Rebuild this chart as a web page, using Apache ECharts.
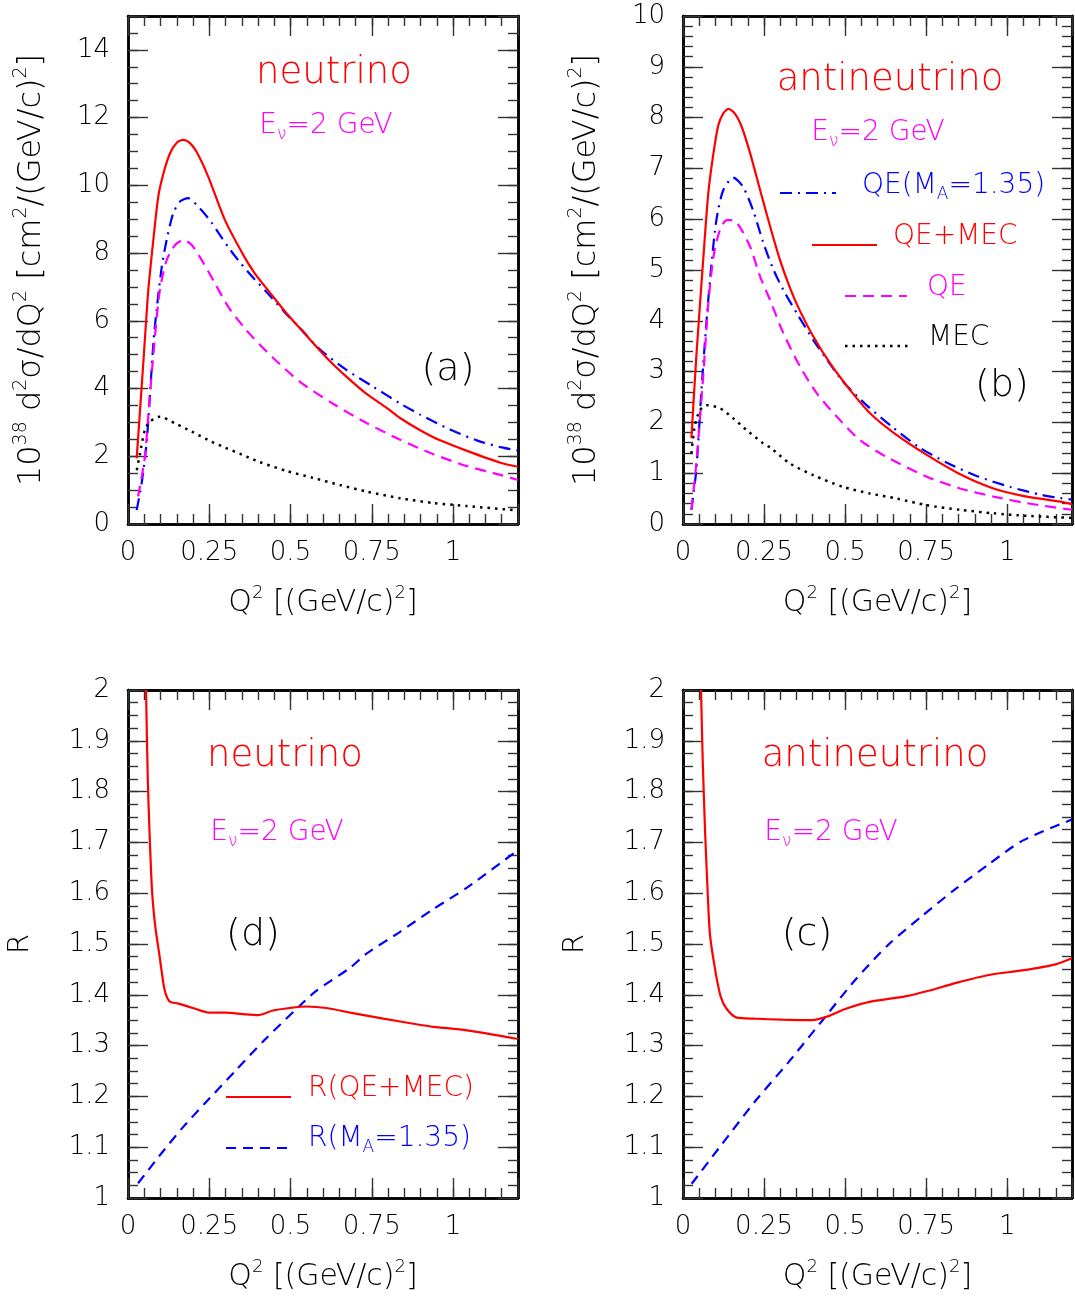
<!DOCTYPE html>
<html>
<head>
<meta charset="utf-8">
<script src="https://cdn.jsdelivr.net/npm/echarts@6/dist/echarts.min.js"></script>
<style>
  html, body { margin: 0; padding: 0; background: #fff; }
  #chart { width: 1075px; height: 1297px; }
</style>
</head>
<body>
<div id="chart"></div>
<script>
// ---- tick labels ----
const xTickLabels = [0, 0.25, 0.5, 0.75, 1];
const yTickLabelsNu = [0, 2, 4, 6, 8, 10, 12, 14];
const yTickLabelsAnu = [0, 1, 2, 3, 4, 5, 6, 7, 8, 9, 10];
const yTickLabelsRatio = [1, 1.1, 1.2, 1.3, 1.4, 1.5, 1.6, 1.7, 1.8, 1.9, 2];

// ---- neutrino, E = 2 GeV : d2sigma/dQ2 [1e-38 cm^2/(GeV/c)^2] vs Q^2 ----
const nuQeMec = [[0.0267,1.94],[0.047,4.74],[0.0625,6.91],[0.078,8.39],[0.093,9.66],[0.109,10.35],[0.129,10.94],[0.15,11.26],[0.17,11.34],[0.189,11.26],[0.211,10.99],[0.247,10.25],[0.298,8.98],[0.355,7.94],[0.39,7.40],[0.436,6.84],[0.487,6.23],[0.539,5.67],[0.611,4.91],[0.672,4.35],[0.734,3.84],[0.796,3.43],[0.837,3.13],[0.899,2.77],[0.96,2.47],[1.043,2.16],[1.146,1.81],[1.2,1.69]];
const nuQeMa = [[0.0267,0.41],[0.042,1.2],[0.058,2.48],[0.078,5.33],[0.088,6.32],[0.104,7.6],[0.119,8.39],[0.139,9.17],[0.16,9.52],[0.185,9.62],[0.221,9.32],[0.257,8.90],[0.308,8.18],[0.345,7.72],[0.39,7.22],[0.436,6.75],[0.487,6.2],[0.518,5.9],[0.59,5.16],[0.672,4.55],[0.755,4.05],[0.837,3.56],[0.899,3.23],[0.991,2.79],[1.073,2.47],[1.146,2.27],[1.2,2.17]];
const nuQe = [[0.031,0.81],[0.052,1.99],[0.067,3.76],[0.083,5.53],[0.098,6.91],[0.119,7.79],[0.145,8.24],[0.17,8.39],[0.196,8.24],[0.227,7.79],[0.268,7.1],[0.308,6.42],[0.355,5.83],[0.385,5.50],[0.446,4.91],[0.529,4.2],[0.631,3.55],[0.734,2.98],[0.837,2.49],[0.94,2.06],[1.043,1.71],[1.146,1.45],[1.2,1.30]];
const nuMec = [[0.027,1.59],[0.037,2.09],[0.052,2.78],[0.067,3.02],[0.098,3.17],[0.145,2.97],[0.196,2.73],[0.257,2.43],[0.3,2.25],[0.35,2.05],[0.405,1.83],[0.487,1.57],[0.57,1.36],[0.652,1.15],[0.734,0.96],[0.837,0.76],[0.94,0.62],[1.043,0.53],[1.2,0.40]];

// ---- antineutrino, E = 2 GeV ----
const anuQeMec = [[0.026,1.69],[0.041,3.29],[0.063,5.26],[0.078,6.51],[0.094,7.30],[0.109,7.85],[0.124,8.08],[0.14,8.17],[0.16,8.08],[0.181,7.82],[0.207,7.30],[0.238,6.57],[0.269,5.85],[0.299,5.2],[0.33,4.65],[0.359,4.22],[0.402,3.69],[0.454,3.16],[0.515,2.64],[0.577,2.18],[0.649,1.80],[0.752,1.36],[0.855,0.98],[0.958,0.70],[1.06,0.54],[1.164,0.44],[1.2,0.39]];
const anuQeMa = [[0.026,0.28],[0.041,1.06],[0.057,2.64],[0.072,3.95],[0.088,5.13],[0.103,5.98],[0.124,6.57],[0.155,6.82],[0.185,6.64],[0.216,6.18],[0.247,5.55],[0.278,5.02],[0.31,4.60],[0.351,4.15],[0.402,3.62],[0.438,3.29],[0.494,2.80],[0.566,2.34],[0.644,1.92],[0.726,1.52],[0.813,1.21],[0.906,0.945],[1.009,0.73],[1.107,0.57],[1.164,0.51],[1.2,0.48]];
const anuQe = [[0.026,0.28],[0.041,1.19],[0.063,2.97],[0.078,4.34],[0.094,5.26],[0.114,5.79],[0.135,5.98],[0.155,5.98],[0.175,5.85],[0.207,5.46],[0.238,4.87],[0.2685,4.41],[0.31,3.75],[0.361,3.10],[0.413,2.57],[0.475,2.11],[0.546,1.65],[0.628,1.32],[0.752,0.93],[0.855,0.70],[0.958,0.54],[1.06,0.41],[1.2,0.28]];
const anuMec = [[0.026,1.39],[0.036,1.92],[0.052,2.24],[0.072,2.34],[0.114,2.28],[0.155,2.08],[0.196,1.85],[0.247,1.59],[0.27,1.50],[0.33,1.19],[0.402,0.96],[0.494,0.73],[0.577,0.60],[0.66,0.50],[0.752,0.37],[0.855,0.28],[0.958,0.21],[1.06,0.16],[1.2,0.12]];

// ---- ratios R ----
const nuRatioMec = [[0.0555,2.0],[0.0607,1.829],[0.066,1.724],[0.074,1.604],[0.084,1.534],[0.0967,1.478],[0.109,1.422],[0.117,1.40],[0.13,1.386],[0.153,1.383],[0.2,1.374],[0.251,1.365],[0.302,1.365],[0.354,1.362],[0.40,1.36],[0.446,1.369],[0.498,1.374],[0.549,1.377],[0.611,1.374],[0.683,1.365],[0.786,1.353],[0.888,1.342],[0.94,1.337],[1.043,1.33],[1.2,1.313]];
const nuRatioMa = [[0.031,1.029],[0.103,1.088],[0.17,1.14],[0.236,1.186],[0.33,1.25],[0.42,1.311],[0.518,1.372],[0.58,1.408],[0.683,1.453],[0.734,1.481],[0.837,1.524],[0.94,1.569],[1.043,1.611],[1.2,1.685]];
const anuRatioMec = [[0.0556,2.0],[0.0607,1.864],[0.068,1.724],[0.075,1.618],[0.083,1.52],[0.099,1.45],[0.116,1.397],[0.135,1.372],[0.166,1.355],[0.222,1.353],[0.305,1.351],[0.397,1.35],[0.449,1.358],[0.50,1.372],[0.582,1.387],[0.685,1.397],[0.758,1.408],[0.84,1.423],[0.943,1.439],[1.046,1.448],[1.149,1.46],[1.2,1.472]];
const anuRatioMa = [[0.0268,1.028],[0.119,1.105],[0.222,1.19],[0.325,1.267],[0.428,1.348],[0.531,1.429],[0.634,1.499],[0.737,1.555],[0.84,1.608],[0.943,1.657],[1.046,1.703],[1.2,1.745]];

// ---- styling ----
const FONT = "'DejaVu Sans', sans-serif";
const FW = 200;
const RED = '#ff0000', BLUE = '#0000ff', MAG = '#ff00ff', BLACK = '#000000';
const DASH_DOT = [12, 6, 2, 6];
const DASH = [11, 7];
const DOT = [2.5, 5];
const DASH_R = [10, 7];

// rich-text fragments: t = normal, s = superscript, b = subscript
// colorKey is 'color' for component text and 'fill' for graphic elements
function richSet(size, color, colorKey) {
  const k = colorKey || 'color';
  const small = Math.round(size * 0.6);
  const base = { fontFamily: FONT, fontWeight: FW };
  return {
    t: Object.assign({}, base, { fontSize: size, lineHeight: Math.round(size * 1.25), verticalAlign: 'middle', [k]: color }),
    s: Object.assign({}, base, { fontSize: small, verticalAlign: 'top', [k]: color }),
    b: Object.assign({}, base, { fontSize: small, verticalAlign: 'bottom', [k]: color })
  };
}

const grids = [
  { left: 128, top: 16, width: 390, height: 508 },
  { left: 683, top: 16, width: 389, height: 508 },
  { left: 128, top: 690, width: 390, height: 508 },
  { left: 683, top: 690, width: 389, height: 508 }
];

const xTitle = '{t|Q}{s|2}{t| [(GeV/c)}{s|2}{t|]}';
const sigmaTitle = '{t|10}{s|38}{t| d}{s|2}{t|σ/dQ}{s|2}{t| [cm}{s|2}{t|/(GeV/c)}{s|2}{t|]}';

const panels = [
  { yMin: 0, yMax: 15, yMajor: 2, yMinor: 0.5, yLabels: yTickLabelsNu, yName: sigmaTitle, yGap: 76, ySize: 32 },
  { yMin: 0, yMax: 10, yMajor: 1, yMinor: 0.2, yLabels: yTickLabelsAnu, yName: sigmaTitle, yGap: 76, ySize: 32 },
  { yMin: 1, yMax: 2, yMajor: 0.1, yMinor: 0.025, yLabels: yTickLabelsRatio, yName: '{t|R}', yGap: 90, ySize: 29 },
  { yMin: 1, yMax: 2, yMajor: 0.1, yMinor: 0.025, yLabels: yTickLabelsRatio, yName: '{t|R}', yGap: 90, ySize: 29 }
];

const labelFmt = (list) => (v) => list.some(l => Math.abs(l - v) < 1e-6) ? String(+(+v).toFixed(3)) : '';

const frame = { show: true, onZero: false, lineStyle: { color: '#000', width: 2.5 } };
const tickStyle = { color: '#333', width: 1.4 };

const xAxes = [], yAxes = [];
panels.forEach((p, g) => {
  const xBase = { type: 'value', gridIndex: g, min: 0, max: 1.2, splitLine: { show: false }, axisLine: frame };
  xAxes.push(Object.assign({}, xBase, {
    position: 'bottom', interval: 0.25,
    axisTick: { inside: true, length: 20, lineStyle: tickStyle },
    axisLabel: { fontSize: 26, fontFamily: FONT, fontWeight: FW, color: '#000', margin: 16, formatter: labelFmt(xTickLabels) },
    name: xTitle, nameLocation: 'middle', nameGap: 60,
    nameTextStyle: { rich: richSet(30, '#000') }
  }));
  xAxes.push(Object.assign({}, xBase, { position: 'bottom', interval: 0.05, axisTick: { inside: true, length: 10, lineStyle: tickStyle }, axisLabel: { show: false } }));
  xAxes.push(Object.assign({}, xBase, { position: 'top', interval: 0.25, axisTick: { inside: true, length: 20, lineStyle: tickStyle }, axisLabel: { show: false } }));
  xAxes.push(Object.assign({}, xBase, { position: 'top', interval: 0.05, axisTick: { inside: true, length: 10, lineStyle: tickStyle }, axisLabel: { show: false } }));

  const yBase = { type: 'value', gridIndex: g, min: p.yMin, max: p.yMax, splitLine: { show: false }, axisLine: frame };
  yAxes.push(Object.assign({}, yBase, {
    position: 'left', interval: p.yMajor,
    axisTick: { inside: true, length: 20, lineStyle: tickStyle },
    axisLabel: { fontSize: 26, fontFamily: FONT, fontWeight: FW, color: '#000', margin: 18, formatter: labelFmt(p.yLabels) },
    name: p.yName, nameLocation: 'middle', nameGap: p.yGap, nameRotate: 90,
    nameTextStyle: { rich: richSet(p.ySize, '#000') }
  }));
  yAxes.push(Object.assign({}, yBase, { position: 'left', interval: p.yMinor, axisTick: { inside: true, length: 10, lineStyle: tickStyle }, axisLabel: { show: false } }));
  yAxes.push(Object.assign({}, yBase, { position: 'right', interval: p.yMajor, axisTick: { inside: true, length: 20, lineStyle: tickStyle }, axisLabel: { show: false } }));
  yAxes.push(Object.assign({}, yBase, { position: 'right', interval: p.yMinor, axisTick: { inside: true, length: 10, lineStyle: tickStyle }, axisLabel: { show: false } }));
});

function curve(name, data, g, color, dash, width) {
  return {
    name, type: 'line', data, xAxisIndex: 4 * g, yAxisIndex: 4 * g,
    showSymbol: false, smooth: 0.25, clip: true, silent: true,
    lineStyle: { color, width: width || 2.2, type: dash || 'solid', cap: 'butt' }
  };
}

const series = [
  curve('QE(MA=1.35)', nuQeMa, 0, BLUE, DASH_DOT),
  curve('QE', nuQe, 0, MAG, DASH),
  curve('MEC', nuMec, 0, BLACK, DOT, 2.5),
  curve('QE+MEC', nuQeMec, 0, RED),
  curve('QE(MA=1.35)', anuQeMa, 1, BLUE, DASH_DOT),
  curve('QE', anuQe, 1, MAG, DASH),
  curve('MEC', anuMec, 1, BLACK, DOT, 2.5),
  curve('QE+MEC', anuQeMec, 1, RED),
  curve('R(MA=1.35)', nuRatioMa, 2, BLUE, DASH_R),
  curve('R(QE+MEC)', nuRatioMec, 2, RED),
  curve('R(MA=1.35)', anuRatioMa, 3, BLUE, DASH_R),
  curve('R(QE+MEC)', anuRatioMec, 3, RED)
];

// ---- annotations ----
function label(x, y, text, size, color, align) {
  return {
    type: 'text', x, y, silent: true,
    style: { text, rich: richSet(size, color, 'fill'), fill: color, align: align || 'center', verticalAlign: 'middle' }
  };
}
function sample(x1, x2, y, color, dash, width) {
  return {
    type: 'line', silent: true,
    shape: { x1, y1: y, x2, y2: y },
    style: { stroke: color, lineWidth: width || 2.2, lineDash: dash || null }
  };
}
const energy = '{t|E}{b|ν}{t|=2 GeV}';
const graphic = [
  // panel (a)
  label(334, 73, '{t|neutrino}', 37, RED),
  label(326, 126, energy, 28, MAG),
  label(448, 370, '{t|(a)}', 38, BLACK),
  // panel (b)
  label(890, 80, '{t|antineutrino}', 37, RED),
  label(878, 133, energy, 28, MAG),
  label(1002, 386, '{t|(b)}', 38, BLACK),
  sample(780, 836, 193, BLUE, DASH_DOT),
  label(862, 186, '{t|QE(M}{b|A}{t|=1.35)}', 28, BLUE, 'left'),
  sample(812, 877, 245, RED),
  label(893, 237, '{t|QE+MEC}', 28, RED, 'left'),
  sample(845, 907, 296, MAG, DASH),
  label(927, 288, '{t|QE}', 28, MAG, 'left'),
  sample(845, 910, 346, BLACK, DOT, 2.5),
  label(928, 338, '{t|MEC}', 28, BLACK, 'left'),
  // panel (d)
  label(285, 756, '{t|neutrino}', 37, RED),
  label(277, 833, energy, 28, MAG),
  label(253, 935, '{t|(d)}', 38, BLACK),
  sample(226, 291, 1097, RED),
  label(308, 1089, '{t|R(QE+MEC)}', 28, RED, 'left'),
  sample(226, 289, 1148, BLUE, DASH_R),
  label(308, 1139, '{t|R(M}{b|A}{t|=1.35)}', 28, BLUE, 'left'),
  // panel (c)
  label(875, 756, '{t|antineutrino}', 37, RED),
  label(831, 833, energy, 28, MAG),
  label(807, 935, '{t|(c)}', 38, BLACK)
];

const chart = echarts.init(document.getElementById('chart'), null, { renderer: 'canvas' });
chart.setOption({
  backgroundColor: '#fff',
  animation: false,
  grid: grids,
  xAxis: xAxes,
  yAxis: yAxes,
  series,
  graphic
});
</script>
</body>
</html>
